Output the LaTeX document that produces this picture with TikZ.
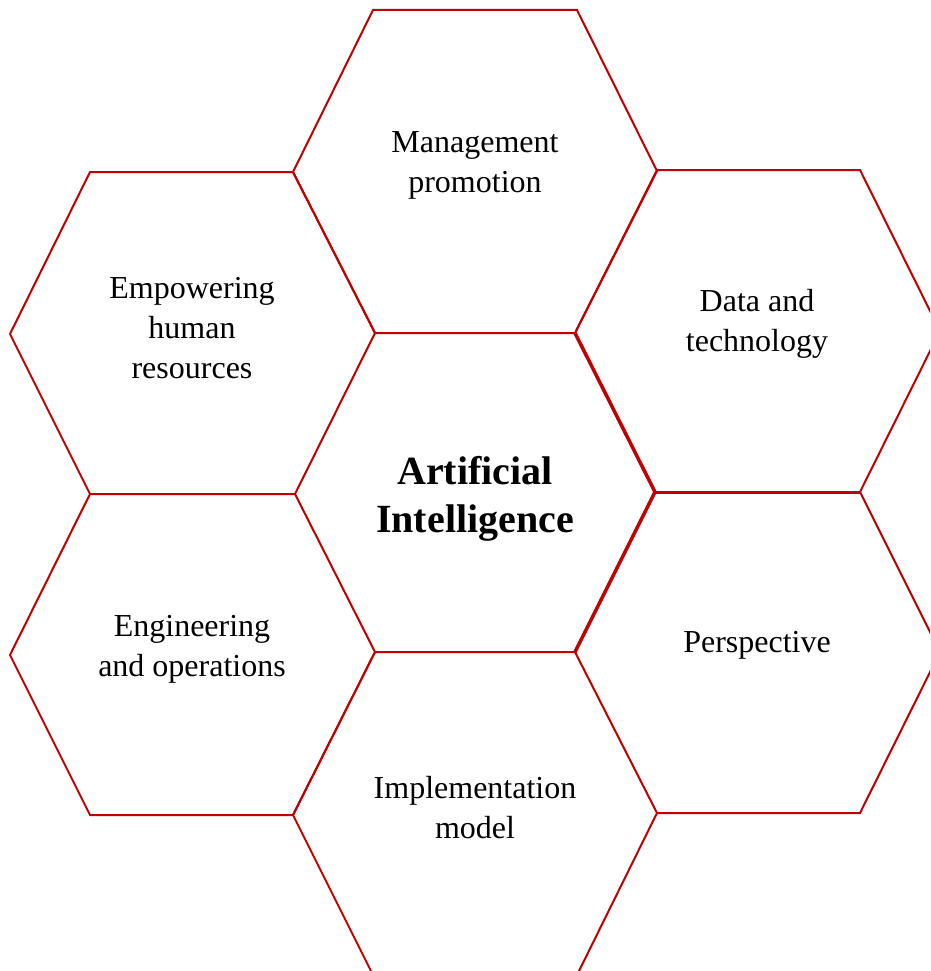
\documentclass[tikz,border=0pt]{standalone}
\usepackage{fontspec}
\setmainfont{Liberation Serif}
\usepackage{tikz}
\definecolor{hexred}{RGB}{192,0,0}
\tikzset{
  hexline/.style={draw=hexred, line width=2pt, line join=miter},
  cell/.style={align=center, text=black, font=\fontsize{32}{40}\selectfont},
  core/.style={align=center, text=black, font=\fontsize{40}{48}\selectfont\bfseries}
}

\begin{document}
\begin{tikzpicture}[x=1pt,y=-1pt]
			\useasboundingbox (0,0) rectangle (930,971);
			\clip (0,0) rectangle (930,971);
			% middle cell
			\draw[hexline] (295,494) -- (375,333) -- (575,333) -- (655,492) -- (575,652) -- (375,652) -- cycle;
			\draw[hexline, line width=3.5pt] (575,333) -- (655,492) -- (575,652);
			% top
			\draw[hexline] (375,333) -- (293,172) -- (373,10) -- (577,10) -- (657,171) -- (575,333);
			% top right
			\draw[hexline] (576,331) -- (657,170) -- (860,170) -- (940,331) -- (860,492) -- (655,492);
			\draw[hexline, line width=3pt] (655,492) -- (860,492);
			% right
			\draw[hexline] (655,492) -- (860,492) -- (940,652) -- (860,813) -- (657,813) -- (575,652);
			% bottom
			\draw[hexline] (375,652) -- (293,815) -- (373,975) -- (577,975) -- (657,813);
			% bottom left
			\draw[hexline] (295,494) -- (90,494) -- (10,655) -- (90,815) -- (293,815) -- (375,652);
			% top left
			\draw[hexline] (375,333) -- (293,172) -- (90,172) -- (10,334) -- (90,494);
			\node[core] (ai) at (475,499) {Artificial\\Intelligence};
			\node[cell] (mgmt) at (475,165) {Management\\promotion};
			\node[cell] (data) at (757,324) {Data and\\technology};
			\node[cell] (persp) at (757,645) {Perspective};
			\node[cell] (impl) at (475,808) {Implementation\\model};
			\node[cell] (eng) at (192,649) {Engineering\\and operations};
			\node[cell] (hr) at (192,328) {Empowering\\human\\resources};
		\end{tikzpicture}
\end{document}
